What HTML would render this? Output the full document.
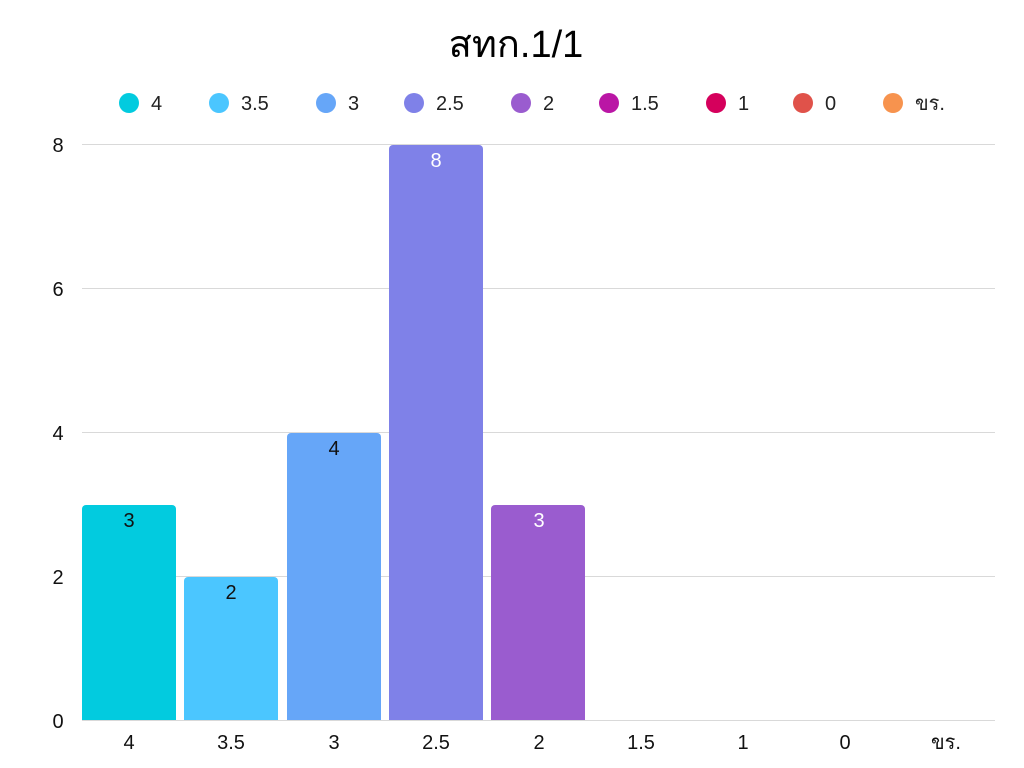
<!DOCTYPE html>
<html><head><meta charset="utf-8"><style>
html,body{margin:0;padding:0;background:#fff;}
svg{display:block;font-family:"Liberation Sans","DejaVu Sans",sans-serif;}
</style></head><body>
<svg width="1024" height="768" viewBox="0 0 1024 768">
<text x="516" y="57" font-size="38" text-anchor="middle" fill="#000">สทก.1/1</text>
<g font-size="20" fill="#222">
<circle cx="129" cy="103" r="10" fill="#02CBDF"/><text x="151" y="110">4</text>
<circle cx="219" cy="103" r="10" fill="#4BC6FF"/><text x="241" y="110">3.5</text>
<circle cx="326" cy="103" r="10" fill="#66A6F8"/><text x="348" y="110">3</text>
<circle cx="414" cy="103" r="10" fill="#7F81E8"/><text x="436" y="110">2.5</text>
<circle cx="521" cy="103" r="10" fill="#9A5CCF"/><text x="543" y="110">2</text>
<circle cx="609" cy="103" r="10" fill="#BA16A5"/><text x="631" y="110">1.5</text>
<circle cx="716" cy="103" r="10" fill="#D5005C"/><text x="738" y="110">1</text>
<circle cx="803" cy="103" r="10" fill="#E0524A"/><text x="825" y="110">0</text>
<circle cx="893" cy="103" r="10" fill="#F7934E"/><text x="915" y="110">ขร.</text>
</g>
<g stroke="#d9d9d9" stroke-width="1">
<line x1="82" y1="144.5" x2="995" y2="144.5"/>
<line x1="82" y1="288.5" x2="995" y2="288.5"/>
<line x1="82" y1="432.5" x2="995" y2="432.5"/>
<line x1="82" y1="576.5" x2="995" y2="576.5"/>
<line x1="82" y1="720.5" x2="995" y2="720.5"/>
</g>
<g font-size="20" fill="#111" text-anchor="middle">
<text x="58" y="152">8</text><text x="58" y="296">6</text><text x="58" y="440">4</text><text x="58" y="584">2</text><text x="58" y="728">0</text>
</g>
<path d="M82 720V509a4 4 0 0 1 4-4h86a4 4 0 0 1 4 4V720Z" fill="#02CBDF"/>
<path d="M184 720V581a4 4 0 0 1 4-4h86a4 4 0 0 1 4 4V720Z" fill="#4BC6FF"/>
<path d="M287 720V437a4 4 0 0 1 4-4h86a4 4 0 0 1 4 4V720Z" fill="#66A6F8"/>
<path d="M389 720V149a4 4 0 0 1 4-4h86a4 4 0 0 1 4 4V720Z" fill="#7F81E8"/>
<path d="M491 720V509a4 4 0 0 1 4-4h86a4 4 0 0 1 4 4V720Z" fill="#9A5CCF"/>
<g font-size="20" text-anchor="middle">
<text x="129" y="527" fill="#111">3</text>
<text x="231" y="599" fill="#111">2</text>
<text x="334" y="455" fill="#111">4</text>
<text x="436" y="167" fill="#fff">8</text>
<text x="539" y="527" fill="#fff">3</text>
</g>
<g font-size="20" fill="#111" text-anchor="middle">
<text x="129" y="749">4</text><text x="231" y="749">3.5</text><text x="334" y="749">3</text><text x="436" y="749">2.5</text><text x="539" y="749">2</text><text x="641" y="749">1.5</text><text x="743" y="749">1</text><text x="845" y="749">0</text><text x="946" y="749">ขร.</text>
</g>
</svg>
</body></html>
